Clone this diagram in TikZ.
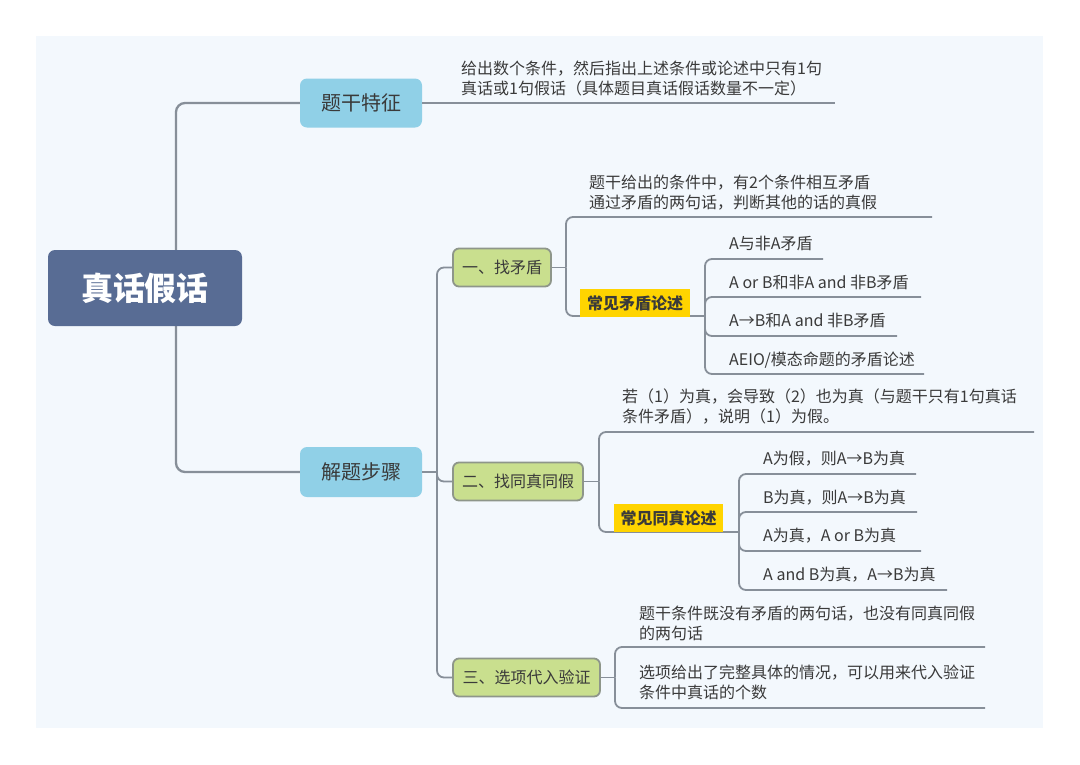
\documentclass[tikz,border=0pt]{standalone}
\usepackage{fontspec}
\setmainfont{Noto Sans CJK SC}
\definecolor{bgc}{HTML}{F3F8FD}
\definecolor{rootc}{HTML}{586C94}
\definecolor{bluec}{HTML}{90D0E7}
\definecolor{greenc}{HTML}{C9DF8E}
\definecolor{greenb}{HTML}{8E968A}
\definecolor{yellowc}{HTML}{FFD400}
\definecolor{linec}{HTML}{878F99}
\definecolor{txt}{HTML}{3A3A3A}
\tikzset{
  conn/.style={draw=linec, line width=1.8pt, rounded corners=7pt},
  mainconn/.style={draw=linec, line width=2.3pt, rounded corners=9pt},
  rootbox/.style={fill=rootc, rounded corners=7pt, minimum width=194pt, minimum height=76pt, inner sep=0pt, text=white, font=\fontsize{32}{36}\selectfont\bfseries},
  lvlone/.style={fill=bluec, rounded corners=7pt, minimum width=122pt, minimum height=49pt, inner sep=0pt, text=txt, font=\fontsize{20}{24}\selectfont},
  lvltwo/.style={fill=greenc, draw=greenb, line width=1.8pt, rounded corners=6pt, minimum height=38pt, inner sep=0pt, text=txt, font=\fontsize{16}{20}\selectfont},
  yelbox/.style={fill=yellowc, minimum height=28pt, inner sep=0pt, text=txt, font=\fontsize{16}{20}\selectfont\bfseries},
  leaf/.style={anchor=north west, align=left, inner sep=0pt, text=txt, font=\fontsize{16}{20}\selectfont},
}
\begin{document}
\begin{tikzpicture}[x=1pt,y=-1pt]
\useasboundingbox (0,0) rectangle (1080,764);
\fill[white] (0,0) rectangle (1080,764);
\fill[bgc] (36,36) rectangle (1043,728);

% junction coordinates
\coordinate (j0) at (176,288);
\coordinate (j1) at (437,472);
\coordinate (k1) at (566,267.5);
\coordinate (k1b) at (705,316);
\coordinate (k2) at (599,481.5);
\coordinate (k2b) at (739,532);
\coordinate (k3) at (615,677.5);
% leaf line ends
\coordinate (u0) at (835,103);
\coordinate (u1) at (932,217);
\coordinate (e11) at (823,259);
\coordinate (e12) at (921,297);
\coordinate (e13) at (897,336);
\coordinate (e14) at (924,374);
\coordinate (u2) at (1034,432);
\coordinate (e21) at (916,474);
\coordinate (e22) at (917,512);
\coordinate (e23) at (921,551);
\coordinate (e24) at (947,590);
\coordinate (u31) at (985,647);
\coordinate (u32) at (985,708);

% nodes (boxes)
\node[lvlone] (a) at (361,103) {题干特征};
\node[lvlone, minimum height=50pt] (b) at (361,472) {解题步骤};
\node[lvltwo, minimum width=98pt] (g1) at (502,267.5) {一、找矛盾};
\node[lvltwo, minimum width=130pt] (g2) at (518,481.5) {二、找同真同假};
\node[lvltwo, minimum width=147pt] (g3) at (526.5,677.5) {三、选项代入验证};

% connectors
\draw[mainconn] (j0) |- (a.west);
\draw[mainconn] (j0) |- (b.west);
\draw[conn] (a.east) -- (u0);
\draw[conn] (b.east) -- (j1);
\draw[conn] (j1) |- (g1.west);
\draw[conn] (j1) |- (g2.west);
\draw[conn] (j1) |- (g3.west);

\draw[conn] (g1.east) -- (k1);
\draw[conn] (k1) |- (u1);
\draw[conn] (k1) |- (k1b);
\draw[conn] (k1b) |- (e11);
\draw[conn] (k1b) |- (e12);
\draw[conn] (k1b) |- (e13);
\draw[conn] (k1b) |- (e14);

\draw[conn] (g2.east) -- (k2);
\draw[conn] (k2) |- (u2);
\draw[conn] (k2) |- (k2b);
\draw[conn] (k2b) |- (e21);
\draw[conn] (k2b) |- (e22);
\draw[conn] (k2b) |- (e23);
\draw[conn] (k2b) |- (e24);

\draw[conn] (g3.east) -- (k3);
\draw[conn] (k3) |- (u31);
\draw[conn] (k3) |- (u32);

% boxes drawn on top
\node[rootbox] (root) at (145,288) {真话假话};
\node[yelbox, minimum width=110pt] (y1) at (635,303) {常见矛盾论述};
\node[yelbox, minimum width=109pt] (y2) at (668.5,518) {常见同真论述};

% leaf texts
\node[leaf] (t0) at (461,60.5) {给出数个条件，然后指出上述条件或论述中只有1句\\真话或1句假话（具体题目真话假话数量不一定）};
\node[leaf] (t1) at (589,174.5) {题干给出的条件中，有2个条件相互矛盾\\通过矛盾的两句话，判断其他的话的真假};
\node[leaf] (t11) at (729,235.5) {A与非A矛盾};
\node[leaf] (t12) at (729,274.5) {A or B和非A and 非B矛盾};
\node[leaf] (t13) at (729,312.5) {A→B和A and 非B矛盾};
\node[leaf] (t14) at (729,351.5) {AEIO/模态命题的矛盾论述};
\node[leaf] (t2) at (622,388.5) {若（1）为真，会导致（2）也为真（与题干只有1句真话\\条件矛盾），说明（1）为假。};
\node[leaf] (t21) at (763,450.5) {A为假，则A→B为真};
\node[leaf] (t22) at (763,489.5) {B为真，则A→B为真};
\node[leaf] (t23) at (763,527.5) {A为真，A or B为真};
\node[leaf] (t24) at (763,566.5) {A and B为真，A→B为真};
\node[leaf] (t31) at (639,605.5) {题干条件既没有矛盾的两句话，也没有同真同假\\的两句话};
\node[leaf] (t32) at (639,664.5) {选项给出了完整具体的情况，可以用来代入验证\\条件中真话的个数};
\end{tikzpicture}
\end{document}
